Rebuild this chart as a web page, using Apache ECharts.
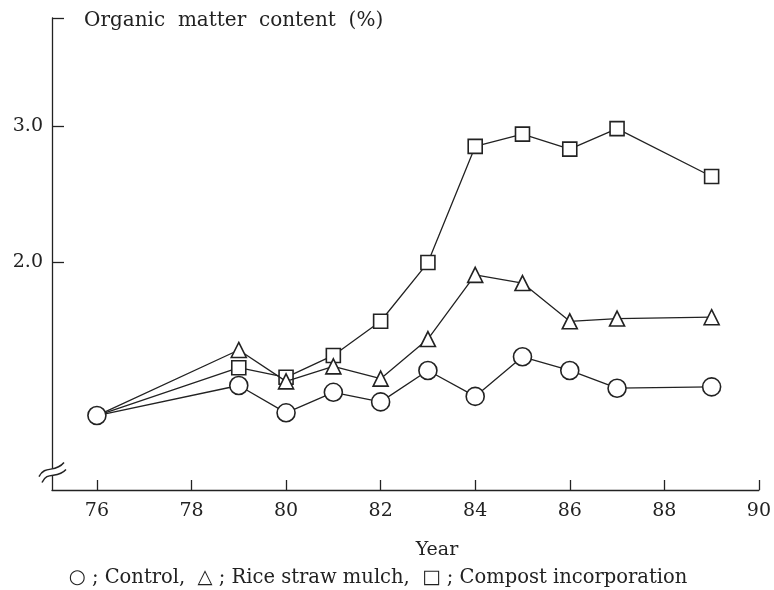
<!DOCTYPE html>
<html>
<head>
<meta charset="utf-8">
<script src="https://cdn.jsdelivr.net/npm/echarts@6/dist/echarts.min.js"></script>
<style>
html,body{margin:0;padding:0;background:#fff;}
#main{width:774px;height:590px;}
</style>
</head>
<body>
<div id="main"></div>
<script>
// Data
const years = [76, 79, 80, 81, 82, 83, 84, 85, 86, 87, 89];
const control = [0.88, 1.10, 0.90, 1.05, 0.98, 1.21, 1.02, 1.31, 1.21, 1.08, 1.09];
const riceStraw = [0.88, 1.36, 1.13, 1.24, 1.15, 1.44, 1.91, 1.85, 1.57, 1.59, 1.60];
const compost = [0.88, 1.23, 1.16, 1.32, 1.57, 2.00, 2.85, 2.94, 2.83, 2.98, 2.63];
const xTicks = [76, 78, 80, 82, 84, 86, 88, 90];
const yLabels = [2.0, 3.0];
const yTicks = [2.0, 3.0, 3.79];
const seriesNames = ['Control', 'Rice straw mulch', 'Compost incorporation'];

const FONT = "'DejaVu Serif', 'Liberation Serif', serif";
const INK = '#222';

const chart = echarts.init(document.getElementById('main'), null, {renderer: 'canvas'});

// the shared starting point is only marked once (by the control circle)
function pairs(vals, hideFirst) {
  return years.map((y, i) => (hideFirst && i === 0)
    ? {value: [y, vals[i]], symbol: 'none'}
    : [y, vals[i]]);
}

function mkSeries(name, vals, symbol, size, hideFirst, z) {
  return {
    name: name,
    type: 'line',
    data: pairs(vals, hideFirst),
    symbol: symbol,
    symbolSize: size,
    showAllSymbol: true,
    lineStyle: {color: INK, width: 1.3},
    itemStyle: {color: '#fff', borderColor: INK, borderWidth: 1.6},
    emphasis: {disabled: true},
    animation: false,
    z: z
  };
}

const option = {
  backgroundColor: '#fff',
  animation: false,
  grid: {left: 52, right: 11, top: 18, bottom: 100, containLabel: false},
  title: [
    {
      text: 'Organic  matter  content  (%)',
      left: 79, top: 6,
      textStyle: {fontFamily: FONT, fontSize: 20, fontWeight: 'normal', color: INK}
    },
    {
      text: 'Year',
      left: 432, top: 536, textAlign: 'center',
      textStyle: {fontFamily: FONT, fontSize: 19, fontWeight: 'normal', color: INK}
    },
    {
      text: '\u25CB ; ' + seriesNames[0] + ',  \u25B3 ; ' + seriesNames[1] + ',  \u25A1 ; ' + seriesNames[2],
      left: 373, top: 563, textAlign: 'center',
      textStyle: {fontFamily: FONT, fontSize: 19.5, fontWeight: 'normal', color: INK}
    }
  ],
  xAxis: {
    type: 'value',
    min: 75.05, max: 90,
    axisLine: {show: true, lineStyle: {color: INK, width: 1.3}},
    axisTick: {show: true, inside: true, length: 10, customValues: xTicks, lineStyle: {color: INK, width: 1.3}},
    axisLabel: {customValues: xTicks, margin: 12, fontFamily: FONT, fontSize: 19, color: INK},
    splitLine: {show: false}
  },
  yAxis: {
    type: 'value',
    min: 0.335, max: 3.79,
    axisLine: {show: true, lineStyle: {color: INK, width: 1.3}},
    axisTick: {show: true, inside: true, length: 12, customValues: yTicks, lineStyle: {color: INK, width: 1.3}},
    axisLabel: {
      customValues: yLabels, margin: 9, fontFamily: FONT, fontSize: 19, color: INK,
      formatter: v => v.toFixed(1)
    },
    splitLine: {show: false}
  },
  series: [
    mkSeries(seriesNames[0], control, 'circle', 18, false, 5),
    mkSeries(seriesNames[1], riceStraw, 'triangle', 15, true, 4),
    mkSeries(seriesNames[2], compost, 'rect', 14, true, 3)
  ]
};

chart.setOption(option);

// axis break mark on the y axis (decoration)
const p = chart.convertToPixel({gridIndex: 0}, [75.05, 0.47]);
const cx = p[0], cy = p[1];
chart.setOption({
  graphic: [
    {
      type: 'rect', z: 10,
      shape: {x: cx - 3, y: cy - 3, width: 6, height: 7},
      style: {fill: '#fff'}
    },
    {
      type: 'bezierCurve', z: 11,
      shape: {x1: cx - 13, y1: cy + 5, cpx1: cx - 7, cpy1: cy - 7, cpx2: cx + 3, cpy2: cy + 2, x2: cx + 12, y2: cy - 9},
      style: {stroke: INK, lineWidth: 1.5, fill: null}
    },
    {
      type: 'bezierCurve', z: 11,
      shape: {x1: cx - 10, y1: cy + 11, cpx1: cx - 5, cpy1: cy - 1, cpx2: cx + 5, cpy2: cy + 8, x2: cx + 14, y2: cy - 2},
      style: {stroke: INK, lineWidth: 1.5, fill: null}
    }
  ]
});
</script>
</body>
</html>
